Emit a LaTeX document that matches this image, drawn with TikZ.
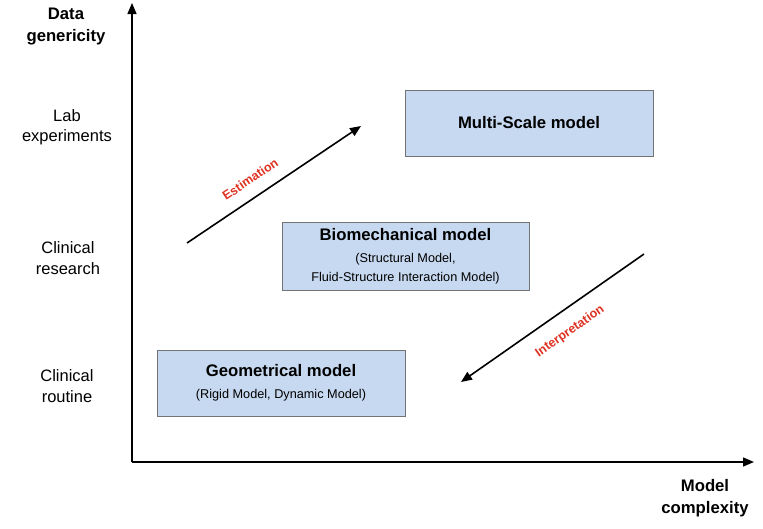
\documentclass[tikz,border=0pt]{standalone}
\usepackage{fontspec}
\setmainfont{Liberation Sans}
\usetikzlibrary{arrows.meta,positioning}
\definecolor{box area}{RGB}{199,217,240}
\colorlet{box edge}{black!55}
\definecolor{trend red}{RGB}{222,50,34}
\newcommand\modeltitle[1]{{\bfseries\fontsize{16.7}{19}\selectfont #1}}
\tikzset{modelbox/.style={fill=box area, draw=box edge, thick, align=center,
        minimum width=248pt, font=\fontsize{12.7}{18.5}\selectfont},
    axis/.style={line width=1.4pt, -{Triangle[length=11pt,width=9pt]}},
    trend/.style={line width=1.6pt, -{Triangle[length=11pt,width=9pt]}},
    trendlabel/.style={text=trend red, font=\bfseries\fontsize{12.5}{14}\selectfont, sloped},
    axistitle/.style={align=center, font=\bfseries\fontsize{16.7}{22}\selectfont},
    level/.style={align=center, font=\fontsize{16.5}{20.5}\selectfont}}

\begin{document}
\begin{tikzpicture}[x=1pt,y=-1pt]
    \useasboundingbox (0,0) rectangle (763,528);
    % axes
    \coordinate (origin) at (132,462);
    \coordinate (ytop) at (132,3);
    \coordinate (xend) at (754,462);
    \draw[axis] (origin) -- (ytop);
    \draw[axis] (origin) -- (xend);
    \node[axistitle] (ytitle) at (66,27) {Data\\genericity};
    \node[axistitle] (xtitle) at (705,498) {Model\\complexity};
    % levels of data
    \node[level] (lab) at (67,127) {Lab\\experiments};
    \node[level] (research) at (68,258) {Clinical\\research};
    \node[level] (routine) at (67,386) {Clinical\\routine};
    % models
    \node[modelbox, minimum height=66pt] (multiscale) at (529,123) {\modeltitle{Multi-Scale model}};
    \node[modelbox, minimum height=68pt, minimum width=247pt] (biomech) at (405.5,256)
        {\modeltitle{Biomechanical model}\\[4pt](Structural Model,\\Fluid-Structure Interaction Model)};
    \node[modelbox, minimum height=66pt] (geometric) at (281,383)
        {\modeltitle{Geometrical model}\\[3pt](Rigid Model, Dynamic Model)};
    % trends
    \coordinate (est start) at (187,243);
    \coordinate (est end) at (361,126);
    \coordinate (int start) at (644,254);
    \coordinate (int end) at (461,382);
    \draw[trend] (est start) -- node[trendlabel, pos=0.42, above=9pt] {Estimation} (est end);
    \draw[trend] (int start) -- node[trendlabel, pos=0.47, below=11pt] {Interpretation} (int end);
\end{tikzpicture}
\end{document}
